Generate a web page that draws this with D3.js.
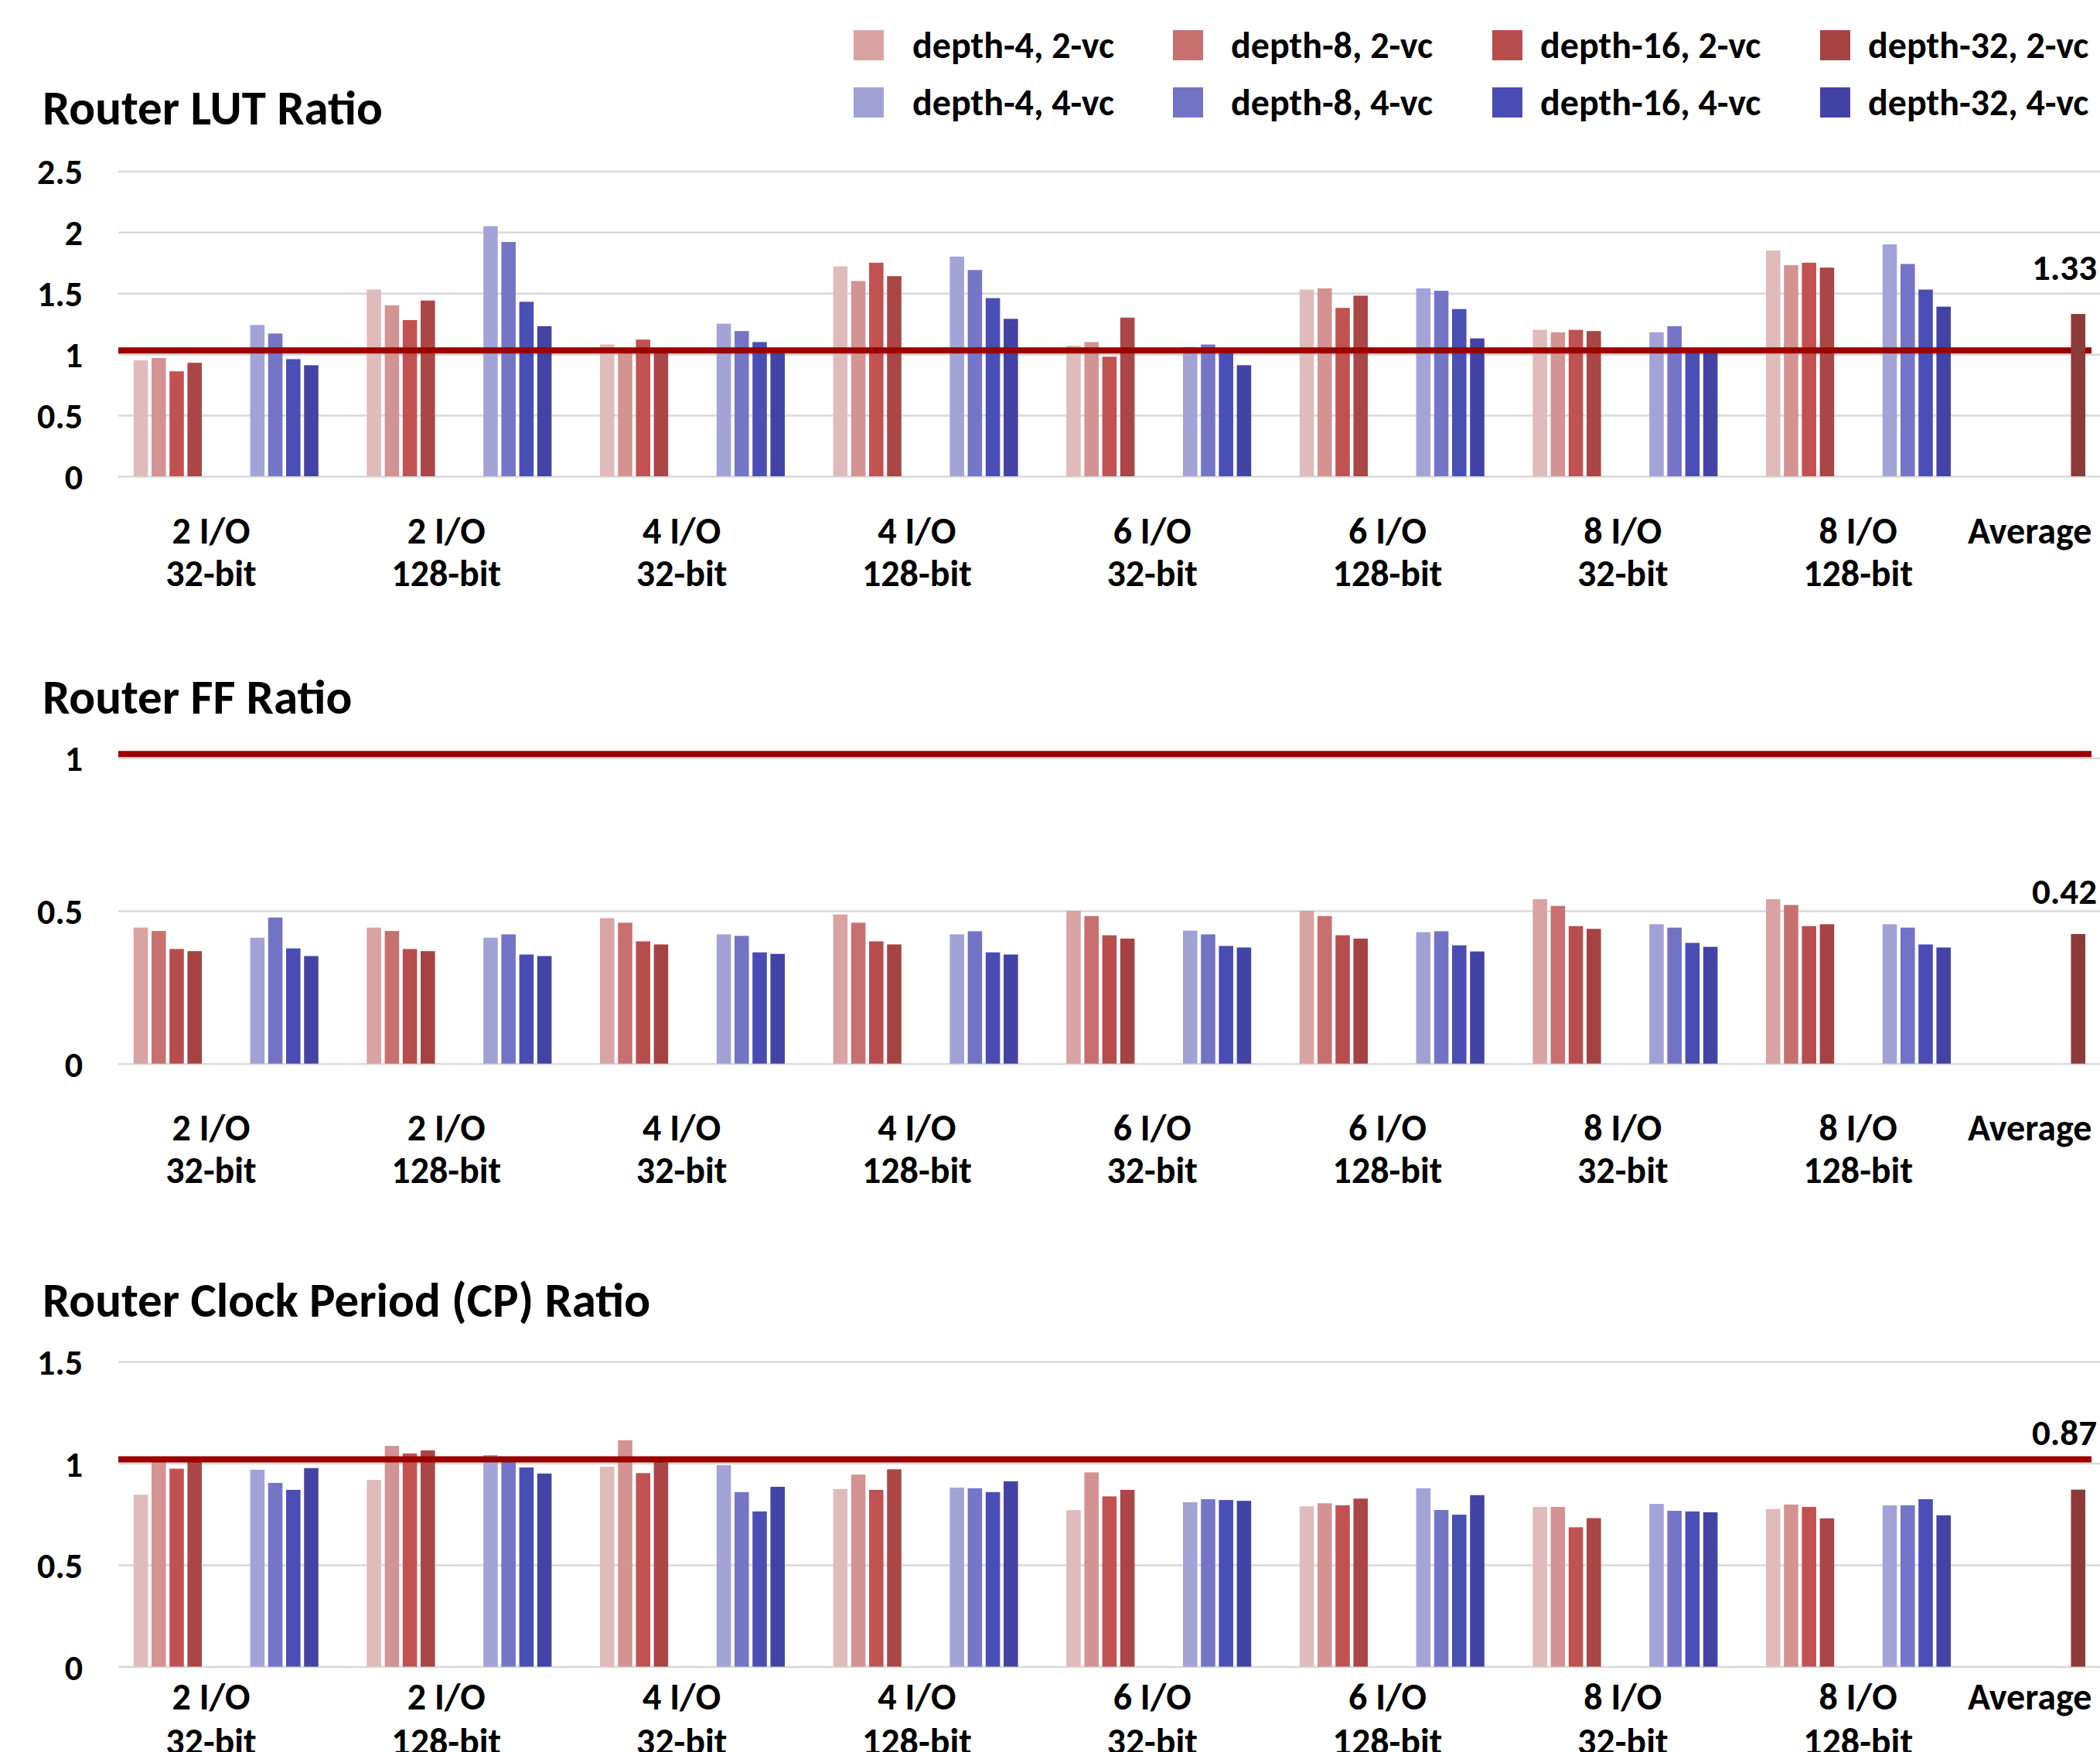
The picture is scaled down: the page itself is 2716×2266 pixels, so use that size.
<!DOCTYPE html>
<html>
<head>
<meta charset="utf-8">
<script src="https://cdn.jsdelivr.net/npm/d3@7"></script>
<style>
  body { margin: 0; background: #fff; }
  svg text { font-family: Carlito, Calibri, Lato, sans-serif; font-weight: bold; fill: #000; }
</style>
</head>
<body>
<div id="chart"></div>
<script>
// category labels (two lines under each pair of bar groups)
const ioLabels = ["2 I/O", "2 I/O", "4 I/O", "4 I/O", "6 I/O", "6 I/O", "8 I/O", "8 I/O"];
const widthLabels = ["32-bit", "128-bit", "32-bit", "128-bit", "32-bit", "128-bit", "32-bit", "128-bit"];
const depthNames = ["depth-4", "depth-8", "depth-16", "depth-32"];
const vcNames = ["2-vc", "4-vc"];

// one row per configuration, columns = depth-4, depth-8, depth-16, depth-32
const lut2vc = [
  [0.95, 0.97, 0.86, 0.93],
  [1.53, 1.40, 1.28, 1.44],
  [1.08, 1.03, 1.12, 1.03],
  [1.72, 1.60, 1.75, 1.64],
  [1.07, 1.10, 0.98, 1.30],
  [1.53, 1.54, 1.38, 1.48],
  [1.20, 1.18, 1.20, 1.19],
  [1.85, 1.73, 1.75, 1.71]
];
const lut4vc = [
  [1.24, 1.17, 0.96, 0.91],
  [2.05, 1.92, 1.43, 1.23],
  [1.25, 1.19, 1.10, 1.03],
  [1.80, 1.69, 1.46, 1.29],
  [1.06, 1.08, 1.03, 0.91],
  [1.54, 1.52, 1.37, 1.13],
  [1.18, 1.23, 1.03, 1.02],
  [1.90, 1.74, 1.53, 1.39]
];
const ff2vc = [
  [0.445, 0.434, 0.375, 0.368],
  [0.445, 0.434, 0.375, 0.368],
  [0.476, 0.461, 0.400, 0.390],
  [0.488, 0.461, 0.400, 0.390],
  [0.500, 0.483, 0.420, 0.409],
  [0.500, 0.483, 0.420, 0.409],
  [0.538, 0.516, 0.450, 0.441],
  [0.538, 0.519, 0.450, 0.456]
];
const ff4vc = [
  [0.412, 0.478, 0.377, 0.352],
  [0.412, 0.423, 0.357, 0.352],
  [0.423, 0.418, 0.364, 0.359],
  [0.423, 0.433, 0.364, 0.357],
  [0.435, 0.423, 0.385, 0.380],
  [0.430, 0.433, 0.387, 0.367],
  [0.456, 0.445, 0.395, 0.382],
  [0.456, 0.445, 0.390, 0.380]
];
const cp2vc = [
  [0.845, 1.01, 0.973, 1.02],
  [0.918, 1.085, 1.048, 1.063],
  [0.983, 1.113, 0.951, 1.02],
  [0.873, 0.944, 0.869, 0.970],
  [0.769, 0.955, 0.837, 0.869],
  [0.788, 0.803, 0.793, 0.826],
  [0.785, 0.785, 0.685, 0.730],
  [0.775, 0.797, 0.785, 0.729]
];
const cp4vc = [
  [0.968, 0.903, 0.869, 0.976],
  [1.040, 1.01, 0.979, 0.949],
  [0.990, 0.858, 0.763, 0.884],
  [0.880, 0.877, 0.858, 0.911],
  [0.808, 0.823, 0.819, 0.815],
  [0.877, 0.770, 0.747, 0.843],
  [0.800, 0.766, 0.763, 0.759],
  [0.793, 0.793, 0.823, 0.744]
];
const lutAvg = 1.33;
const ffAvg = 0.424;
const cpAvg = 0.87;

const lutTicks = [0, 0.5, 1, 1.5, 2, 2.5];
const ffTicks = [0, 0.5, 1];
const cpTicks = [0, 0.5, 1, 1.5];
const refValue = 1;

// colours
const legendRed = ["#D9A3A3", "#C87070", "#B84D4D", "#A54343"];
const legendBlue = ["#A1A1D6", "#7373C6", "#4A4CB4", "#4343A6"];
const softRed = ["#E0BBBB", "#D39393", "#C25151", "#AA4646"];
const softBlue = ["#A3A3D8", "#7575C8", "#4A4FB5", "#4343A5"];
const avgColor = "#8C3A3A";
const refColor = "#990000";
const gridColor = "#D9D9D9";

const W = 2716, H = 2266;
const gridLeft = 153, gridRight = 2716, refRight = 2705;

const svg = d3.select("#chart").append("svg")
  .attr("width", W).attr("height", H);

// slots: 2-vc and 4-vc group for each config, then the average
const slots = [];
ioLabels.forEach((d, i) => { slots.push(i + "-2vc"); slots.push(i + "-4vc"); });
slots.push("avg");

const x0 = d3.scaleBand().domain(slots)
  .range([141.5, 141.5 + slots.length * 150.8])
  .paddingInner(0.415).paddingOuter(0.2075);
const x1 = d3.scaleBand().domain(d3.range(4))
  .range([0, x0.bandwidth()]).paddingInner(0.2);

// category label positions
const catX = d3.scalePoint().domain(d3.range(9)).range([273, 273 + 8 * 304.3]);

const charts = [
  { title: "Router LUT Ratio", v2: lut2vc, v4: lut4vc, avg: lutAvg, ticks: lutTicks,
    range: [616, 221.4], titleY: 161, catY: [703, 758], avgGap: 44, red: softRed, blue: softBlue },
  { title: "Router FF Ratio", v2: ff2vc, v4: ff4vc, avg: ffAvg, ticks: ffTicks,
    range: [1375.7, 980.3], titleY: 923, catY: [1475, 1530], avgGap: 39, red: legendRed, blue: legendBlue },
  { title: "Router Clock Period (CP) Ratio", v2: cp2vc, v4: cp4vc, avg: cpAvg, ticks: cpTicks,
    range: [2155.6, 1760.9], titleY: 1703, catY: [2211, 2269], avgGap: 58, red: softRed, blue: softBlue }
];

charts.forEach(c => {
  const y = d3.scaleLinear().domain(d3.extent(c.ticks)).range(c.range);
  const g = svg.append("g");

  // title
  g.append("text").attr("x", 55).attr("y", c.titleY)
    .style("font-size", "63px").text(c.title);

  // gridlines
  const grid = g.append("g").attr("transform", `translate(${gridLeft},0)`)
    .call(d3.axisLeft(y).tickValues(c.ticks).tickSize(-(gridRight - gridLeft)).tickFormat(""));
  grid.select(".domain").remove();
  grid.selectAll(".tick line").attr("stroke", gridColor).attr("stroke-width", 2.5);

  // tick labels
  const ax = g.append("g").attr("transform", "translate(107,0)")
    .call(d3.axisLeft(y).tickValues(c.ticks).tickSize(0).tickPadding(0).tickFormat(d => String(d)));
  ax.select(".domain").remove();
  ax.selectAll("text").attr("fill", "#000").style("font-size", "46px")
    .attr("font-family", null).attr("dy", "0.36em");

  // bars
  const rows = [];
  c.v2.forEach((vals, i) => vals.forEach((v, k) => rows.push({ slot: i + "-2vc", k, v, color: c.red[k] })));
  c.v4.forEach((vals, i) => vals.forEach((v, k) => rows.push({ slot: i + "-4vc", k, v, color: c.blue[k] })));
  g.append("g").selectAll("rect").data(rows).join("rect")
    .attr("x", d => x0(d.slot) + x1(d.k))
    .attr("width", x1.bandwidth())
    .attr("y", d => y(d.v))
    .attr("height", d => y(0) - y(d.v))
    .attr("fill", d => d.color);

  // reference line at 1
  g.append("line")
    .attr("x1", gridLeft).attr("x2", refRight)
    .attr("y1", y(refValue) - 5).attr("y2", y(refValue) - 5)
    .attr("stroke", refColor).attr("stroke-width", 8);

  // average bar and its value
  const avgX = x0("avg") + x1.step() * 4;
  g.append("rect")
    .attr("x", avgX).attr("width", x1.bandwidth())
    .attr("y", y(c.avg)).attr("height", y(0) - y(c.avg))
    .attr("fill", avgColor);
  g.append("text")
    .attr("x", 2712).attr("y", y(c.avg) - c.avgGap)
    .attr("text-anchor", "end").style("font-size", "47px")
    .text(d3.format(".2f")(c.avg));

  // category labels
  const cats = g.append("g").selectAll("g").data(d3.range(9)).join("g");
  cats.append("text")
    .attr("x", i => i < 8 ? catX(i) : catX(i) - 2)
    .attr("y", c.catY[0])
    .attr("text-anchor", i => i < 8 ? "middle" : "end")
    .style("font-size", "48px")
    .text(i => i < 8 ? ioLabels[i] : "Average");
  cats.filter(i => i < 8).append("text")
    .attr("x", i => catX(i)).attr("y", c.catY[1])
    .attr("text-anchor", "middle").style("font-size", "48px")
    .text(i => widthLabels[i]);
});

// legend
const legendSwatchX = [1104, 1517, 1930, 2354];
const legendTextX = [1180, 1592, 1992, 2416];
const legendItems = [];
vcNames.forEach((vc, r) => depthNames.forEach((dn, k) =>
  legendItems.push({ label: dn + ", " + vc, row: r, col: k, color: (r === 0 ? legendRed : legendBlue)[k] })));
const legend = svg.append("g").selectAll("g").data(legendItems).join("g")
  .attr("transform", d => `translate(0,${58.5 + d.row * 74})`);
legend.append("rect").attr("x", d => legendSwatchX[d.col]).attr("y", -19.5)
  .attr("width", 39).attr("height", 39)
  .attr("fill", d => d.color);
legend.append("text").attr("x", d => legendTextX[d.col]).attr("y", 16)
  .style("font-size", "48px").text(d => d.label);
</script>
</body>
</html>
